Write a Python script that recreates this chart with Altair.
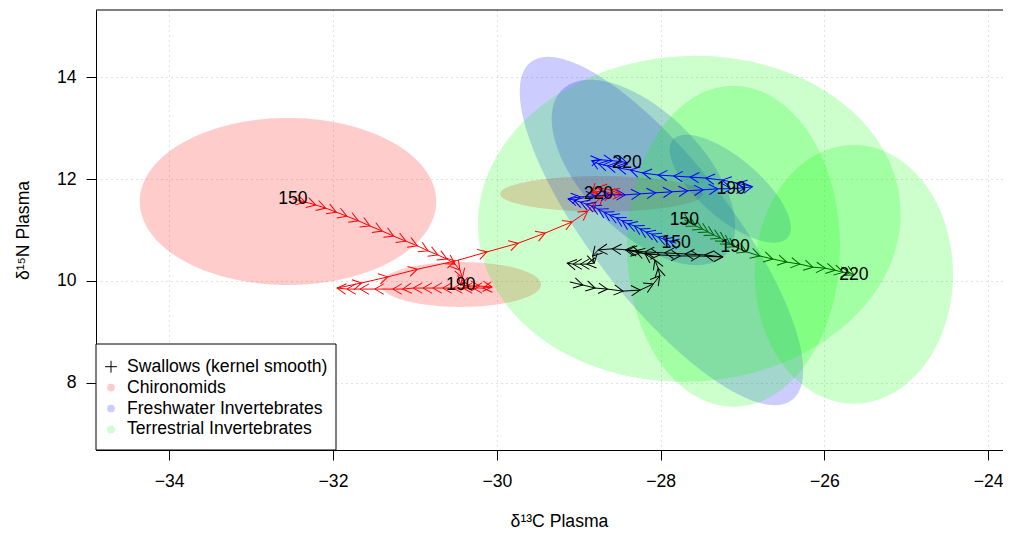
import math
import numpy as np
import pandas as pd
import altair as alt

FONT = "Liberation Sans"
FS = 17.6

# ---------------- axes ----------------
PLOT_W, PLOT_H = 907, 440
X_DOMAIN = [-34.894, -34.894 + 907 / 81.9]
Y_DOMAIN = [6.68, 15.32]
X_TICKS = [-34, -32, -30, -28, -26, -24]
Y_TICKS = [8, 10, 12, 14]

# ---------------- ellipses (standard ellipses of prey groups) ----------------
groups = ["Chironomids", "Freshwater Invertebrates", "Terrestrial Invertebrates"]
group_fill = ["#FF0000", "#0000FF", "#00FF00"]
ell_group = ["Chironomids"] * 3 + ["Freshwater Invertebrates"] * 3 + ["Terrestrial Invertebrates"] * 3
ell_cx = [-32.55, -30.44, -28.72, -27.99, -28.21, -27.15, -27.65, -27.11, -25.64]
ell_cy = [11.56, 9.93, 11.71, 10.98, 12.13, 11.81, 11.22, 10.68, 10.13]
ell_sx = [1.81, 0.98, 1.24, 1.73, 1.12, 0.74, 2.58, 1.30, 1.21]
ell_sy = [1.64, 0.44, 0.35, 3.42, 1.82, 1.06, 3.20, 3.15, 2.54]
ell_rho = [0.0, 0.0, 0.0, -0.80, -0.58, -0.72, 0.03, 0.0, 0.0]

# ---------------- smoothed trajectories ----------------
red_x = [-32.49, -32.34, -32.21, -32.09, -31.96, -31.83, -31.69, -31.55, -31.40, -31.26,
         -31.11, -30.97, -30.84, -30.72, -30.61, -30.51, -30.45, -30.42, -30.44, -30.33,
         -30.21, -30.06, -30.17, -30.29, -30.41, -30.53, -30.66, -30.78, -30.90, -31.02,
         -31.15, -31.27, -31.49, -31.67, -31.83, -31.95, -31.65, -31.33, -30.97, -30.51,
         -30.12, -29.74, -29.41, -29.08, -28.89, -28.79, -28.70, -28.59, -28.47, -28.62,
         -28.77, -28.84, -28.76]
red_y = [11.61, 11.55, 11.49, 11.43, 11.35, 11.27, 11.18, 11.08, 10.98, 10.88,
         10.78, 10.69, 10.59, 10.51, 10.43, 10.33, 10.21, 10.06, 9.92, 9.90,
         9.90, 9.88, 9.86, 9.86, 9.86, 9.86, 9.86, 9.86, 9.86, 9.86,
         9.84, 9.84, 9.84, 9.84, 9.84, 9.86, 9.96, 10.08, 10.23, 10.39,
         10.57, 10.74, 10.94, 11.16, 11.37, 11.55, 11.67, 11.71, 11.69, 11.79,
         11.83, 11.73, 11.71]
red_label_idx = [0, 18, 52]

blue_x = [-27.81, -27.89, -27.96, -28.03, -28.11, -28.18, -28.25, -28.32, -28.40, -28.47,
          -28.54, -28.62, -28.69, -28.76, -28.84, -28.91, -28.98, -29.06, -29.13,
          -28.98, -28.80, -28.62, -28.43, -28.25, -28.06, -27.86, -27.67, -27.48, -27.30,
          -27.14, -26.97, -26.88, -27.06, -27.25, -27.45, -27.64, -27.84, -28.03, -28.22,
          -28.37, -28.52, -28.65, -28.76, -28.84, -28.74, -28.59, -28.47, -28.41]
blue_y = [10.74, 10.78, 10.82, 10.86, 10.92, 10.96, 11.02, 11.08, 11.12, 11.18,
          11.24, 11.29, 11.35, 11.41, 11.47, 11.51, 11.55, 11.59, 11.61,
          11.65, 11.67, 11.69, 11.69, 11.71, 11.73, 11.75, 11.77, 11.79, 11.81,
          11.81, 11.83, 11.85, 11.92, 11.98, 12.02, 12.04, 12.06, 12.08, 12.12,
          12.18, 12.22, 12.26, 12.30, 12.36, 12.38, 12.36, 12.34, 12.32]
blue_label_idx = [0, 29, 47]

green_x = [-27.71, -27.64, -27.57, -27.49, -27.42, -27.35, -27.27, -27.21, -27.15, -27.09,
           -26.95, -26.79, -26.63, -26.46, -26.30, -26.14, -25.99, -25.87, -25.77, -25.69,
           -25.64]
green_y = [11.20, 11.14, 11.08, 11.02, 10.96, 10.90, 10.84, 10.78, 10.72, 10.67,
           10.57, 10.49, 10.43, 10.37, 10.33, 10.27, 10.25, 10.21, 10.17, 10.16,
           10.12]
green_label_idx = [0, 9, 20]

black_x = [-29.11, -28.95, -28.80, -28.65, -28.46, -28.25, -28.09, -28.01, -28.03, -28.07,
           -28.19, -28.31, -28.43, -28.25, -28.01, -27.76, -27.52, -27.24, -27.46, -27.70,
           -27.95, -28.19, -28.40, -28.59, -28.76, -28.83, -28.81, -28.90, -28.98, -29.07,
           -29.14]
black_y = [9.98, 9.92, 9.86, 9.84, 9.80, 9.82, 9.94, 10.10, 10.25, 10.41,
           10.53, 10.59, 10.61, 10.55, 10.51, 10.49, 10.49, 10.47, 10.51, 10.53,
           10.55, 10.57, 10.61, 10.63, 10.61, 10.49, 10.35, 10.33, 10.33, 10.33,
           10.35]
black_label_idx = []

day_labels = ["150", "190", "220"]

legend_labels = ["Swallows (kernel smooth)", "Chironomids", "Freshwater Invertebrates",
                 "Terrestrial Invertebrates"]

# ---------------- scales ----------------
xs = alt.Scale(domain=X_DOMAIN, nice=False, zero=False)
ys = alt.Scale(domain=Y_DOMAIN, nice=False, zero=False)
KX = PLOT_W / (X_DOMAIN[1] - X_DOMAIN[0])
KY = PLOT_H / (Y_DOMAIN[1] - Y_DOMAIN[0])

x_axis = alt.Axis(values=X_TICKS, title="δ¹³C Plasma", grid=True, gridDash=[1, 4],
                  gridColor="#C4C4C4", gridWidth=1, domain=True, domainColor="black",
                  domainWidth=1, tickColor="black", tickSize=10, tickWidth=1,
                  labelFont=FONT, labelFontSize=FS, labelColor="black",
                  labelBaseline="middle", labelPadding=21, labelFlush=False,
                  titleFont=FONT, titleFontSize=FS, titleFontWeight="normal",
                  titleColor="black", titleX=463, titleY=71, titleAlign="center",
                  titleBaseline="middle")
y_axis = alt.Axis(values=Y_TICKS, title="δ¹⁵N Plasma", grid=True, gridDash=[1, 4],
                  gridColor="#C4C4C4", gridWidth=1, domain=True, domainColor="black",
                  domainWidth=1, tickColor="black", tickSize=10, tickWidth=1,
                  labelFont=FONT, labelFontSize=FS, labelColor="black",
                  labelAlign="right", labelBaseline="middle", labelPadding=10,
                  labelFlush=False,
                  titleFont=FONT, titleFontSize=FS, titleFontWeight="normal",
                  titleColor="black", titleX=-73, titleY=220, titleAngle=270,
                  titleAlign="center", titleBaseline="middle")


def X(field):
    return alt.X(field, scale=xs, axis=x_axis)


def Y(field, **kw):
    return alt.Y(field, scale=ys, axis=y_axis, **kw)


# ---------------- ellipse outlines ----------------
rows = []
t = np.linspace(0, np.pi, 181)
for k in range(len(ell_cx)):
    u = np.cos(t)
    r = ell_rho[k]
    q = math.sqrt(1 - r * r)
    w = np.sqrt(np.clip(1 - u * u, 0, None))
    xx = ell_cx[k] + ell_sx[k] * u
    lo = ell_cy[k] + ell_sy[k] * (r * u - q * w)
    hi = ell_cy[k] + ell_sy[k] * (r * u + q * w)
    for j in range(len(t)):
        rows.append(dict(eid=k, group=ell_group[k], x=float(xx[j]), lo=float(lo[j]), hi=float(hi[j])))
ell_df = pd.DataFrame(rows)

ellipses = alt.Chart(ell_df).mark_area(opacity=0.2, clip=True).encode(
    x=X("x:Q"),
    y=Y("lo:Q", stack=None),
    y2="hi:Q",
    color=alt.Color("group:N", scale=alt.Scale(domain=groups, range=group_fill), legend=None),
    detail="eid:N",
)

layers = [ellipses]

CHEVRON = "M -1 -0.58 L 0 0 L -1 0.58"

tracks = [
    (black_x, black_y, black_label_idx, "#000000"),
    (red_x, red_y, red_label_idx, "#FF0000"),
    (blue_x, blue_y, blue_label_idx, "#0000FF"),
    (green_x, green_y, green_label_idx, "#006400"),
]

label_rows = []
for tx, ty, lab_idx, col in tracks:
    df = pd.DataFrame({"i": range(len(tx)), "x": tx, "y": ty})
    layers.append(alt.Chart(df).mark_line(strokeWidth=1, clip=True, color=col).encode(
        x=X("x:Q"), y=Y("y:Q"), order="i:Q",
    ))
    arr = []
    for i in range(1, len(tx)):
        dx = (tx[i] - tx[i - 1]) * KX
        dy = -(ty[i] - ty[i - 1]) * KY
        if abs(dx) + abs(dy) < 1e-9:
            continue
        ang = math.degrees(math.atan2(dy, dx)) % 360
        arr.append(dict(x=tx[i], y=ty[i], ang=ang))
    adf = pd.DataFrame(arr)
    layers.append(alt.Chart(adf).mark_point(shape=CHEVRON, filled=False, size=320,
                                            strokeWidth=1, opacity=1, clip=True, color=col).encode(
        x=X("x:Q"), y=Y("y:Q"),
        angle=alt.Angle("ang:Q", scale=None),
    ))
    for n, idx in enumerate(lab_idx):
        label_rows.append(dict(x=tx[idx], y=ty[idx], label=day_labels[n]))

lab_df = pd.DataFrame(label_rows)
layers.append(alt.Chart(lab_df).mark_text(font=FONT, fontSize=FS, color="black",
                                          align="center", baseline="middle").encode(
    x=X("x:Q"), y=Y("y:Q"), text="label:N",
))

# top border of the plot box
one = pd.DataFrame({"k": [0]})
layers.append(alt.Chart(one).mark_rule(color="black", strokeWidth=1).encode(
    x=alt.value(0), x2=alt.value(PLOT_W), y=alt.value(0)))

# ---------------- legend box ----------------
LEG_L, LEG_T, LEG_R, LEG_B = 0, 334, 240, PLOT_H
layers.append(alt.Chart(one).mark_rect(fill="white", stroke="black", strokeWidth=1).encode(
    x=alt.value(LEG_L), x2=alt.value(LEG_R), y=alt.value(LEG_T), y2=alt.value(LEG_B)))
ROW0, ROWSTEP = 356.7, 20.9
for i, lab in enumerate(legend_labels):
    ld = pd.DataFrame({"label": [lab]})
    yy = ROW0 + ROWSTEP * i
    layers.append(alt.Chart(ld).mark_text(font=FONT, fontSize=FS, color="black",
                                          align="left", baseline="middle").encode(
        x=alt.value(31), y=alt.value(yy), text="label:N"))
    if i == 0:
        layers.append(alt.Chart(ld).mark_point(shape="M -1 0 L 1 0 M 0 -1 L 0 1", filled=False,
                                               size=140, strokeWidth=1, color="black",
                                               opacity=1).encode(
            x=alt.value(15), y=alt.value(yy)))
    else:
        layers.append(alt.Chart(ld).mark_point(shape="circle", filled=True, size=60,
                                               color=group_fill[i - 1], opacity=0.2).encode(
            x=alt.value(15), y=alt.value(yy)))

chart = alt.layer(*layers).properties(
    width=PLOT_W, height=PLOT_H,
    autosize=alt.AutoSizeParams(type="none"),
    padding={"left": 88, "top": 2, "right": 0, "bottom": 82},
    background="white",
).configure_view(stroke=None)

chart.save("out.html", embed_options={"renderer": "svg", "actions": False})
